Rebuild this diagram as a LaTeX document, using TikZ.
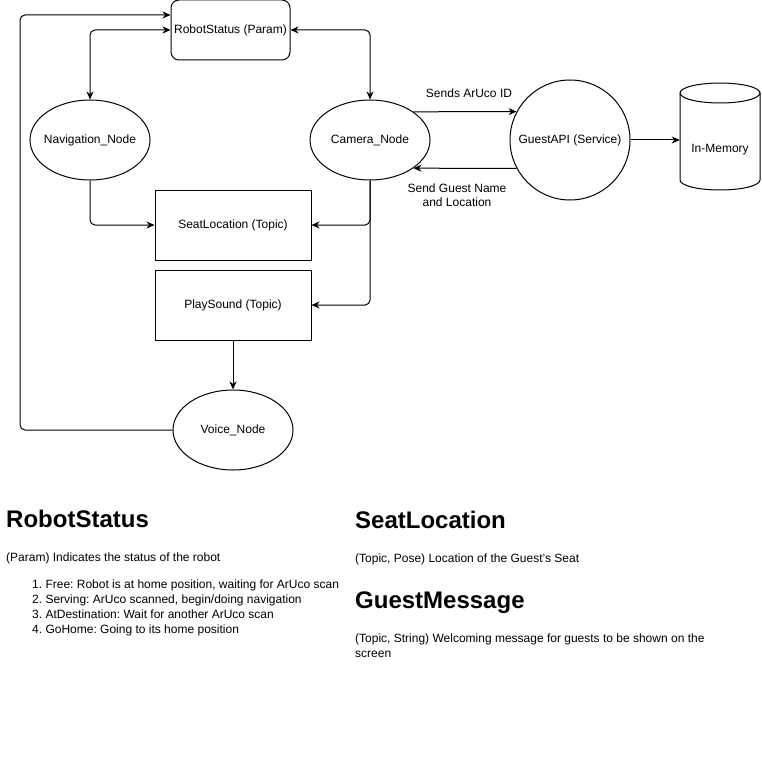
\documentclass[tikz,border=0pt]{standalone}
\usepackage{fontspec}
\setmainfont{Liberation Sans}
\usetikzlibrary{shapes.geometric,arrows.meta}
\begin{document}
\frenchspacing
\begin{tikzpicture}[x=1pt,y=-1pt,
  every node/.style={font=\fontsize{12}{14}\selectfont\frenchspacing, text=black},
  conn/.style={line width=1pt, rounded corners=5pt, -{Stealth[length=8pt,width=7pt,inset=2.5pt]}},
  biconn/.style={line width=1pt, rounded corners=5pt, {Stealth[length=8pt,width=7pt,inset=2.5pt]}-{Stealth[length=8pt,width=7pt,inset=2.5pt]}},
  elli/.style={ellipse, draw, line width=1pt, minimum width=120pt, minimum height=80pt, inner sep=0pt},
  topicbox/.style={rectangle, draw, line width=1pt, minimum width=156pt, minimum height=70pt, inner sep=0pt},
  heading/.style={anchor=base west, inner sep=0pt, font=\fontsize{24}{28}\selectfont\bfseries},
  bodytext/.style={anchor=base west, inner sep=0pt, font=\fontsize{12}{14}\selectfont\frenchspacing}
]
\useasboundingbox (0,0) rectangle (761,762);

\node[rectangle, draw, line width=1pt, rounded corners=8pt, minimum width=119pt, minimum height=60pt, inner sep=0pt] (rs) at (230.5,30) {RobotStatus (Param)};
\node[elli, label=center:{Navigation\_Node}] (nav) at (90,140) {};
\node[elli, label=center:{Camera\_Node}] (cam) at (370,140) {};
\node[circle, draw, line width=1pt, minimum size=120pt, inner sep=0pt, label=center:{GuestAPI (Service)}] (api) at (570,140) {};
\node[rectangle, minimum width=80pt, minimum height=107pt, inner sep=0pt] (mem) at (720,136.5) {};
\node (memlabel) at (720,150) {In-Memory};
\node[topicbox] (seat) at (233,225) {SeatLocation (Topic)};
\node[topicbox] (play) at (233,305) {PlaySound (Topic)};
\node[elli, label=center:{Voice\_Node}] (voice) at (233,430) {};

% cylinder
\draw[line width=1pt] (680,93) -- (680,180) arc[start angle=180, end angle=360, x radius=40, y radius=-10] -- (760,93);
\draw[line width=1pt] (720,93) ellipse[x radius=40, y radius=10];

\coordinate (lc) at (20,15);

\draw[biconn] (nav.north) |- (rs.west);
\draw[biconn] (cam.north) |- (rs.east);
\draw[conn] (voice.west) -| (lc) -- (rs.west |- lc);
\draw[conn] (nav.south) |- (seat.west);
\draw[conn] (cam.south) |- (seat.east);
\draw[conn] (cam.south) |- (play.east);
\draw[conn] (play.south) -- (voice.north);
\draw[conn] (cam.33) -- node[yshift=18pt, xshift=4pt] {Sends ArUco ID} (api.152);
\draw[conn] (api.208) -- node[yshift=-27pt, xshift=-8pt, align=center] {Send Guest Name\\and Location} (cam.-33);
\draw[conn] (api.east) -- (api.east -| mem.west);

% text blocks
\node[heading] (h1) at (6,527) {RobotStatus};
\node[bodytext] (t1) at (6,561) {(Param) Indicates the status of the robot};
\node[bodytext] (l1) at (32,588) {1. Free: Robot is at home position, waiting for ArUco scan};
\node[bodytext] (l2) at (32,603) {2. Serving: ArUco scanned, begin/doing navigation};
\node[bodytext] (l3) at (32,618) {3. AtDestination: Wait for another ArUco scan};
\node[bodytext] (l4) at (32,633) {4. GoHome: Going to its home position};

\node[heading] (h2) at (355,528) {SeatLocation};
\node[bodytext] (t2) at (355,562) {(Topic, Pose) Location of the Guest's Seat};
\node[heading] (h3) at (355,608) {GuestMessage};
\node[bodytext] (t3) at (355,642) {(Topic, String) Welcoming message for guests to be shown on the};
\node[bodytext] (t4) at (355,657) {screen};
\end{tikzpicture}
\end{document}
